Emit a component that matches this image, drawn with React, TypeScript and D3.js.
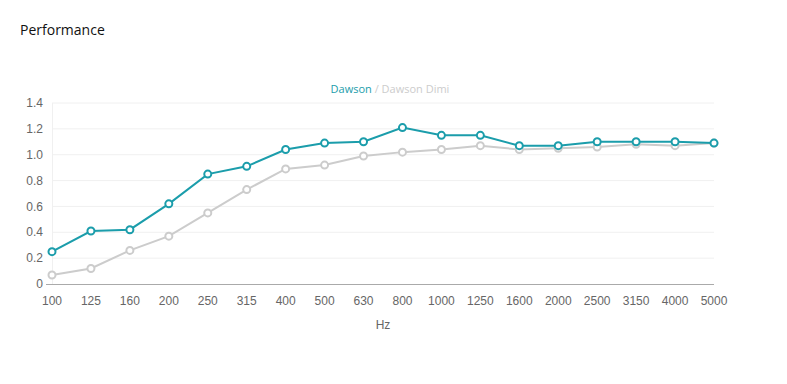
import { useMemo } from "react";
import * as d3 from "d3";

// Frequency bands (Hz) and absorption coefficients.
const BANDS = [
  "100", "125", "160", "200", "250", "315", "400", "500", "630",
  "800", "1000", "1250", "1600", "2000", "2500", "3150", "4000", "5000",
];
const DAWSON = [
  0.25, 0.41, 0.42, 0.62, 0.85, 0.91, 1.04, 1.09, 1.1,
  1.21, 1.15, 1.15, 1.07, 1.07, 1.1, 1.1, 1.1, 1.09,
];
const DAWSON_DIMI = [
  0.07, 0.12, 0.26, 0.37, 0.55, 0.73, 0.89, 0.92, 0.99,
  1.02, 1.04, 1.07, 1.04, 1.05, 1.06, 1.08, 1.07, 1.09,
];
const Y_TICKS = [0, 0.2, 0.4, 0.6, 0.8, 1.0, 1.2, 1.4];

const W = 787;
const H = 384;
const TEAL = "#1b9dab";
const GREY = "#cccccc";
const TICK_FONT = "'Liberation Sans', Arial, sans-serif";

export default function App() {
  const x = useMemo(
    () => d3.scalePoint<string>().domain(BANDS).range([52, 714]),
    []
  );
  const y = useMemo(() => d3.scaleLinear().domain([0, 1.4]).range([284, 103]), []);

  const line = d3
    .line<number>()
    .x((_, i) => x(BANDS[i]) ?? 0)
    .y((d) => y(d));

  const series = [
    { name: "Dawson Dimi", values: DAWSON_DIMI, color: GREY },
    { name: "Dawson", values: DAWSON, color: TEAL },
  ];

  return (
    <svg
      width={W}
      height={H}
      style={{ position: "absolute", left: 0, top: 0, background: "#fff" }}
    >
      <text
        x={20}
        y={35}
        fontSize={14}
        fontFamily="'Open Sans', 'Noto Sans', sans-serif"
        fill="#111"
      >
        Performance
      </text>

      {/* legend */}
      <text
        x={390}
        y={93}
        textAnchor="middle"
        fontSize={11}
        fontFamily="'Open Sans', 'Noto Sans', sans-serif"
      >
        <tspan fill={TEAL}>Dawson</tspan>
        <tspan fill={GREY}> / Dawson Dimi</tspan>
      </text>

      {/* grid */}
      {Y_TICKS.map((t) => (
        <g key={t}>
          {t > 0 && (
            <line x1={52} x2={714} y1={y(t)} y2={y(t)} stroke="#f0f0f0" strokeWidth={1} />
          )}
          <text
            x={43}
            y={y(t)}
            dy="0.35em"
            textAnchor="end"
            fontSize={12}
            fontFamily={TICK_FONT}
            fill="#666"
          >
            {t === 0 ? "0" : t.toFixed(1)}
          </text>
        </g>
      ))}
      <line x1={52.5} x2={52.5} y1={103} y2={284} stroke="#f0f0f0" />
      <line x1={46} x2={714} y1={284.5} y2={284.5} stroke="#aaa" strokeWidth={1} />

      {BANDS.map((b) => (
        <text
          key={b}
          x={x(b)}
          y={305}
          textAnchor="middle"
          fontSize={12}
          fontFamily={TICK_FONT}
          fill="#666"
        >
          {b}
        </text>
      ))}
      <text
        x={383}
        y={329}
        textAnchor="middle"
        fontSize={12}
        fontFamily={TICK_FONT}
        fill="#666"
      >
        Hz
      </text>

      {series.map((s) => (
        <g key={s.name}>
          <path d={line(s.values) ?? ""} fill="none" stroke={s.color} strokeWidth={2} />
          {s.values.map((v, i) => (
            <circle
              key={i}
              cx={x(BANDS[i])}
              cy={y(v)}
              r={3.5}
              fill="#fff"
              stroke={s.color}
              strokeWidth={2}
            />
          ))}
        </g>
      ))}
    </svg>
  );
}
